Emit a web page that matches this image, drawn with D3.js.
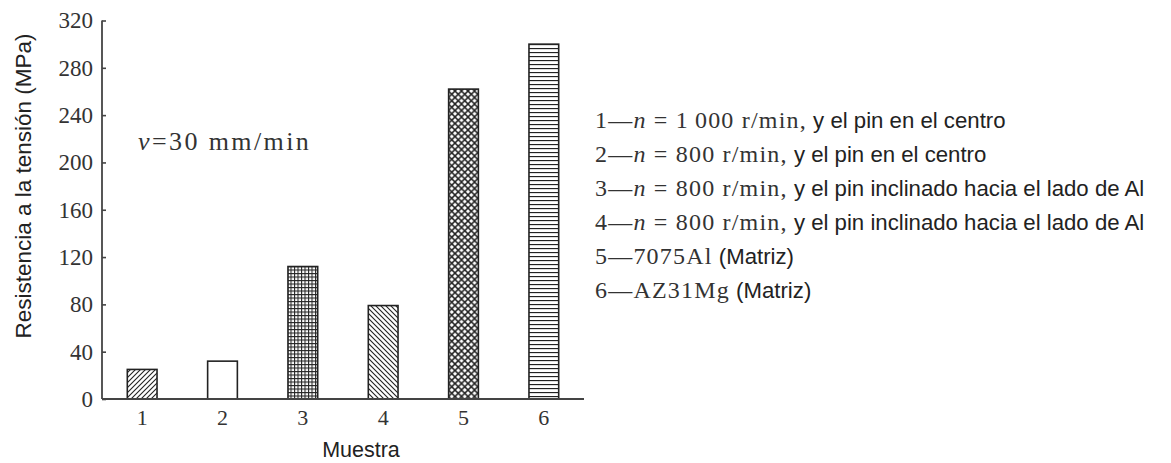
<!DOCTYPE html>
<html>
<head>
<meta charset="utf-8">
<script src="https://cdn.jsdelivr.net/npm/d3@7"></script>
<style>
  body { margin: 0; background: #fff; }
  svg { display: block; }
</style>
</head>
<body>
<div id="chart"></div>
<script>
// datos
const muestras = ["1", "2", "3", "4", "5", "6"];
const resistencia = [25, 32, 112, 79, 262, 300];
const rellenos = ["diagA", "vacio", "rejilla", "diagB", "rombo", "horiz"];
const yTicks = [0, 40, 80, 120, 160, 200, 240, 280, 320];
// cada entrada: [texto, tipo]  (s = serif, i = italica, a = sans)
const leyenda = [
  [["1\u2014", "s"], ["n", "i"], [" = 1\u2009000 r/min,", "s"], [" y el pin en el centro", "a"]],
  [["2\u2014", "s"], ["n", "i"], [" = 800 r/min,", "s"], [" y el pin en el centro", "a"]],
  [["3\u2014", "s"], ["n", "i"], [" = 800 r/min,", "s"], [" y el pin inclinado hacia el lado de Al", "a"]],
  [["4\u2014", "s"], ["n", "i"], [" = 800 r/min,", "s"], [" y el pin inclinado hacia el lado de Al", "a"]],
  [["5\u20147075Al", "s"], [" (Matriz)", "a"]],
  [["6\u2014AZ31Mg", "s"], [" (Matriz)", "a"]]
];

const W = 1171, H = 463;
const SERIF = "'Liberation Serif', 'DejaVu Serif', serif";
const SANS = "'Liberation Sans', Arial, sans-serif";
const INK = "#222";
const AXIS = "#444";

const svg = d3.select("#chart").append("svg").attr("width", W).attr("height", H);

// patrones de relleno
const defs = svg.append("defs");
function pat(id, size) {
  const p = defs.append("pattern").attr("id", id).attr("patternUnits", "userSpaceOnUse")
    .attr("width", size).attr("height", size);
  p.append("rect").attr("width", size).attr("height", size).attr("fill", "#fff");
  return p;
}
let p = pat("diagA", 5);
p.append("path").attr("d", "M-1,1 l2,-2 M0,5 l5,-5 M4,6 l2,-2").attr("stroke", INK).attr("stroke-width", 1.1);
p = pat("diagB", 5);
p.append("path").attr("d", "M-1,4 l2,2 M0,0 l5,5 M4,-1 l2,2").attr("stroke", INK).attr("stroke-width", 1.1);
p = pat("rejilla", 3.5);
p.append("path").attr("d", "M0,0.5 H3.5 M0.5,0 V3.5").attr("stroke", INK).attr("stroke-width", 1.1);
p = pat("rombo", 6.5);
p.append("path").attr("d", "M0,0 L6.5,6.5 M6.5,0 L0,6.5").attr("stroke", INK).attr("stroke-width", 1.5);
p = pat("horiz", 4);
p.append("path").attr("d", "M0,0.5 H4").attr("stroke", INK).attr("stroke-width", 1.3);

const x = d3.scaleBand().domain(muestras).range([102, 584]).paddingInner(0.63).paddingOuter(0.315);
const y = d3.scaleLinear().domain([0, 320]).range([399, 20.5]);

// barras
svg.append("g").selectAll("rect").data(muestras).join("rect")
  .attr("x", d => x(d))
  .attr("y", (d, i) => y(resistencia[i]))
  .attr("width", x.bandwidth())
  .attr("height", (d, i) => y(0) - y(resistencia[i]))
  .attr("fill", (d, i) => rellenos[i] === "vacio" ? "#fff" : `url(#${rellenos[i]})`)
  .attr("stroke", INK).attr("stroke-width", 1.6);

// eje y
const yAxis = svg.append("g").attr("transform", "translate(102,0)")
  .call(d3.axisRight(y).tickValues(yTicks).tickSize(4).tickFormat(""));
yAxis.select(".domain").attr("d", `M0,${y(320)}V${y(0)}`).attr("stroke", AXIS).attr("stroke-width", 1.8);
yAxis.selectAll(".tick line").attr("stroke", AXIS).attr("stroke-width", 1.6);
svg.append("g").selectAll("text").data(yTicks).join("text")
  .attr("x", 93).attr("y", d => y(d)).attr("dy", "0.34em")
  .attr("text-anchor", "end").attr("font-family", SERIF).attr("font-size", 23)
  .attr("fill", "#333").text(d => d);

// eje x
const xAxis = svg.append("g").attr("transform", "translate(0,399)")
  .call(d3.axisBottom(x).tickSize(0).tickPadding(10));
xAxis.select(".domain").attr("d", "M102,0H584").attr("stroke", AXIS).attr("stroke-width", 1.8);
xAxis.selectAll("text").attr("font-family", SERIF).attr("font-size", 22).attr("fill", "#333");

// títulos
svg.append("text").attr("x", 361).attr("y", 457).attr("text-anchor", "middle")
  .attr("font-family", SANS).attr("font-size", 21.5).attr("fill", INK).text("Muestra");
svg.append("text").attr("transform", "translate(31,186) rotate(-90)").attr("text-anchor", "middle")
  .attr("font-family", SANS).attr("font-size", 22.5).attr("fill", INK).text("Resistencia a la tensión (MPa)");

// anotación
const ann = svg.append("text").attr("x", 138).attr("y", 150).attr("font-family", SERIF)
  .attr("font-size", 26).attr("fill", "#333").attr("letter-spacing", 2.4);
ann.append("tspan").attr("font-style", "italic").text("v");
ann.append("tspan").text("=30 mm/min");

// leyenda
const lg = svg.append("g").selectAll("text").data(leyenda).join("text")
  .attr("x", 595).attr("y", (d, i) => 128 + i * 34)
  .attr("fill", INK);
lg.selectAll("tspan").data(d => d).join("tspan")
  .attr("font-family", d => d[1] === "a" ? SANS : SERIF)
  .attr("font-style", d => d[1] === "i" ? "italic" : null)
  .attr("font-size", d => d[1] === "a" ? 22.2 : 24)
  .attr("letter-spacing", d => d[1] === "a" ? 0 : 1.2)
  .attr("fill", d => d[1] === "a" ? INK : "#333")
  .text(d => d[0]);
</script>
</body>
</html>
